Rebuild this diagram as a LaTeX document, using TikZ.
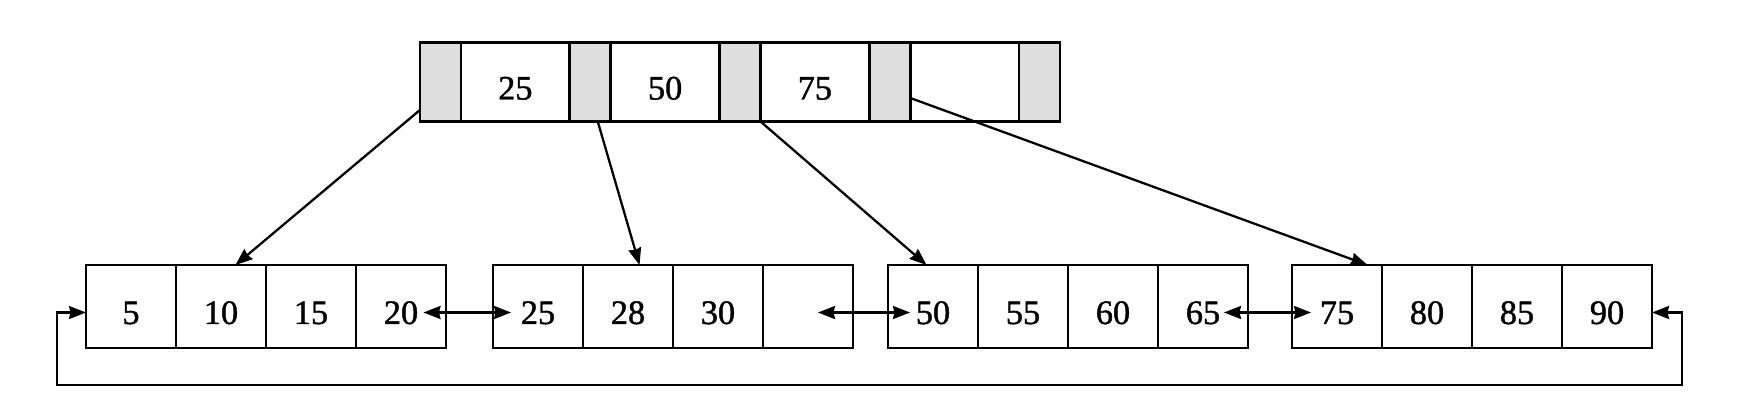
\documentclass[tikz,border=0pt]{standalone}
\usepackage{fontspec}
\setmainfont{Liberation Serif}[FakeBold=1.2]
\usetikzlibrary{arrows.meta,positioning}
\tikzset{
  cell/.style={draw, line width=1.5pt, outer sep=0pt, inner sep=0pt,
               minimum width=18mm, minimum height=16.6mm,
               text height=7mm, text depth=0pt, font=\fontsize{19.5}{22}\selectfont},
  key/.style={cell, minimum width=21.75mm, minimum height=15.8mm},
  ptr/.style={cell, minimum width=8.2mm, minimum height=15.8mm, fill=black!13},
  sig/.style={-{Stealth[length=3.4mm,width=2.6mm,inset=0.3mm]}, line width=1.3pt},
  lnk/.style={{Stealth[length=3.4mm,width=2.6mm,inset=0.3mm]}-{Stealth[length=3.4mm,width=2.6mm,inset=0.3mm]}, line width=1.3pt},
}

\begin{document}
\begin{tikzpicture}
  \useasboundingbox (0,0) rectangle (348.4mm,-83.2mm);
  % root node
  \node[ptr,anchor=north west] (g0) at (84mm,-8.5mm) {};
  \node[key,right=0mm of g0] (k1) {25};
  \node[ptr,right=0mm of k1] (g1) {};
  \node[key,right=0mm of g1] (k2) {50};
  \node[ptr,right=0mm of k2] (g2) {};
  \node[key,right=0mm of g2] (k3) {75};
  \node[ptr,right=0mm of k3] (g3) {};
  \node[key,right=0mm of g3] (k4) {};
  \node[ptr,right=0mm of k4] (g4) {};
  % leaves
  \node[cell,anchor=north west] (a1) at (17.2mm,-53mm) {5};
  \node[cell,right=0mm of a1] (a2) {10};
  \node[cell,right=0mm of a2] (a3) {15};
  \node[cell,right=0mm of a3] (a4) {20};
  \node[cell,right=9.4mm of a4] (b1) {25};
  \node[cell,right=0mm of b1] (b2) {28};
  \node[cell,right=0mm of b2] (b3) {30};
  \node[cell,right=0mm of b3] (b4) {};
  \node[cell,right=7mm of b4] (c1) {50};
  \node[cell,right=0mm of c1] (c2) {55};
  \node[cell,right=0mm of c2] (c3) {60};
  \node[cell,right=0mm of c3] (c4) {65};
  \node[cell,right=8.8mm of c4] (d1) {75};
  \node[cell,right=0mm of d1] (d2) {80};
  \node[cell,right=0mm of d2] (d3) {85};
  \node[cell,right=0mm of d3] (d4) {90};
  % child pointers
  \draw[sig] ([yshift=2.3mm]g0.south west) -- ([xshift=2.9mm]a2.north);
  \draw[sig] ([xshift=1.5mm]g1.south) -- ([xshift=2.3mm]b2.north);
  \draw[sig] (g2.south east) -- ([xshift=-1.3mm]c1.north);
  \draw[sig] ([yshift=-3.2mm]g3.east) -- ([xshift=6.1mm]d1.north);
  % sibling links
  \draw[lnk] ([xshift=4.5mm,yshift=-1.2mm]a4.center) -- ([xshift=-5.4mm,yshift=-1.2mm]b1.center);
  \draw[lnk] ([xshift=2mm,yshift=-1.2mm]b4.center) -- ([xshift=-4.6mm,yshift=-1.2mm]c1.center);
  \draw[lnk] ([xshift=4.2mm,yshift=-1.2mm]c4.center) -- ([xshift=-5.2mm,yshift=-1.2mm]d1.center);
  \draw[lnk] ([yshift=-1.2mm]d4.east) -- ++(6mm,0)
    |- ([xshift=-5.8mm,yshift=-7.4mm]a1.south west) |- ([yshift=-1.2mm]a1.west);
\end{tikzpicture}
\end{document}
